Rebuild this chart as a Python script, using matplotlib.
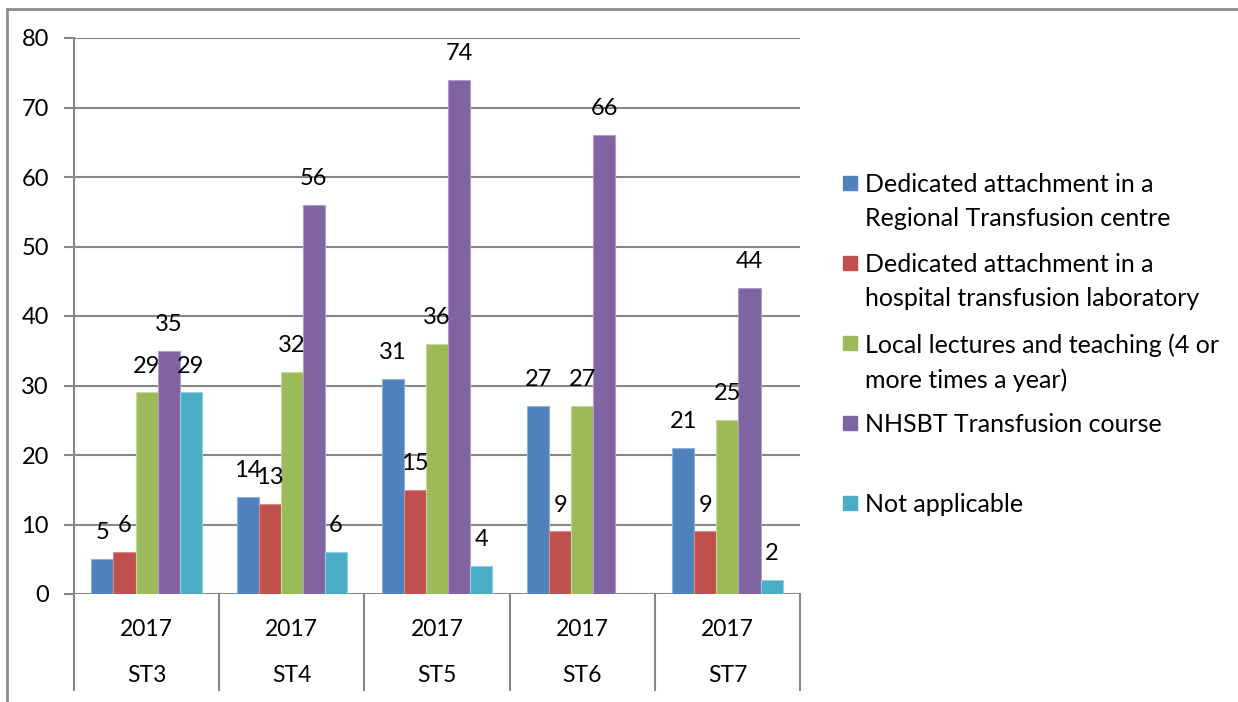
import numpy as np
import matplotlib
matplotlib.use("Agg")
import matplotlib.pyplot as plt
from matplotlib.lines import Line2D
from matplotlib.patches import Rectangle

# ---- data ----
years = ["2017", "2017", "2017", "2017", "2017"]
grades = ["ST3", "ST4", "ST5", "ST6", "ST7"]
series_names = [
    "Dedicated attachment in a\nRegional Transfusion centre",
    "Dedicated attachment in a\nhospital transfusion laboratory",
    "Local lectures and teaching (4 or\nmore times a year)",
    "NHSBT Transfusion course",
    "Not applicable",
]
regional_centre = [5, 14, 31, 27, 21]
hospital_lab = [6, 13, 15, 9, 9]
local_lectures = [29, 32, 36, 27, 25]
nhsbt_course = [35, 56, 74, 66, 44]
not_applicable = [29, 6, 4, np.nan, 2]
series_values = [regional_centre, hospital_lab, local_lectures, nhsbt_course, not_applicable]
colors = ["#4F81BD", "#C0504D", "#9BBB59", "#8064A2", "#4BACC6"]
edge_colors = ["#8FB0DA", "#DA8C8A", "#C3D89A", "#B09CC8", "#8FD0E0"]

W, H = 1238, 702
fig = plt.figure(figsize=(W / 100, H / 100), dpi=100)
ax = fig.add_axes([74 / W, 1 - 594 / H, (800 - 74) / W, (594 - 38) / H])

grid_c = "#878787"
n = len(grades)
x = np.arange(n)
bw = 0.152
offsets = (np.arange(5) - 2) * bw

label_font = dict(family="Lato", size=17, color="black")
for i, (vals, c, ec) in enumerate(zip(series_values, colors, edge_colors)):
    v = np.array(vals, dtype=float)
    mask = ~np.isnan(v)
    ax.bar(x[mask] + offsets[i], v[mask], width=bw, color=c, edgecolor=ec,
           linewidth=0.8, zorder=3)
    for xi, vi in zip(x[mask] + offsets[i], v[mask]):
        ax.annotate(f"{int(vi)}", (xi, vi), xytext=(0, 19), textcoords="offset points",
                    ha="center", va="center", zorder=4, **label_font)

ax.set_xlim(-0.5, n - 0.5)
ax.set_ylim(0, 80)
ax.set_yticks(range(0, 81, 10))
ax.yaxis.grid(True, color=grid_c, linewidth=1.5, zorder=0)
ax.set_axisbelow(True)
for s in ["top", "right", "bottom"]:
    ax.spines[s].set_visible(False)
ax.spines["left"].set_color(grid_c)
ax.spines["left"].set_linewidth(1.5)
ax.tick_params(axis="y", length=7, width=1.5, color=grid_c, pad=11,
               labelsize=17, labelfontfamily="Lato")
ax.set_xticks([])

# category axis (two-level)
trans = ax.get_xaxis_transform()
axis_h = (594 - 38)
y_bottom = -(690 - 594) / axis_h
for b in np.arange(n + 1) - 0.5:
    ax.add_line(Line2D([b, b], [0, y_bottom], transform=trans, color=grid_c,
                       linewidth=1.5, clip_on=False))
for xi, yr, gr in zip(x, years, grades):
    ax.text(xi, -(629 - 594) / axis_h, yr, transform=trans, ha="center", va="center",
            family="Lato", fontsize=16.5)
    ax.text(xi, -(676 - 594) / axis_h, gr, transform=trans, ha="center", va="center",
            family="Lato", fontsize=16.5)

# legend (manual, first line aligned with marker)
leg_y = [183, 263, 343, 423, 503]
for name, c, ly in zip(series_names, colors, leg_y):
    fig.add_artist(Rectangle((843 / W, 1 - (ly + 7) / H), 14 / W, 14 / H,
                             transform=fig.transFigure, color=c))
    fig.text(865 / W, 1 - (ly - 10) / H, name, ha="left", va="top",
             family="Lato", fontsize=18, linespacing=1.6)

# outer frame (top and left visible)
fig.add_artist(Line2D([7 / W, 7 / W], [0, 1 - 9 / H], transform=fig.transFigure,
                      color="#8C8C8C", linewidth=2))
fig.add_artist(Line2D([7 / W, 1], [1 - 9 / H, 1 - 9 / H], transform=fig.transFigure,
                      color="#8C8C8C", linewidth=2))

fig.savefig("out.png", dpi=100)
